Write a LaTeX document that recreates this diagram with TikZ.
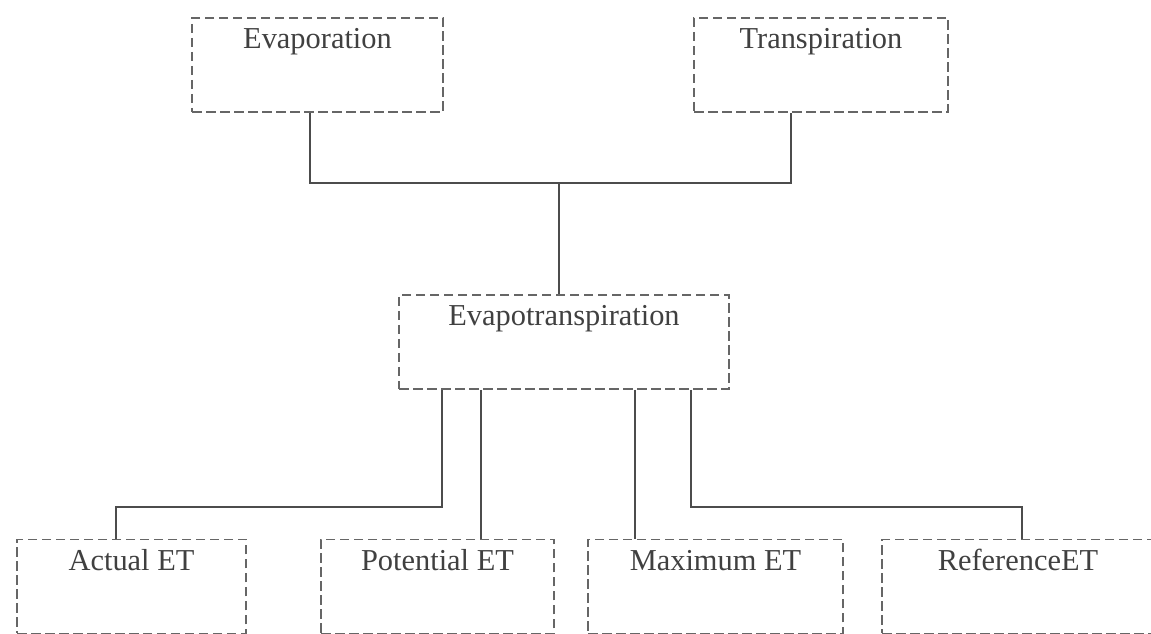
\documentclass[tikz,border=0pt]{standalone}
\usepackage{fontspec}
\setmainfont{Liberation Serif}
\usepackage{tikz}

\begin{document}
\begin{tikzpicture}[auto,scale=1, main/.style = {draw, dash pattern=on 0.19cm off 0.09cm, color=black!60, text=black!75, line width=1.1pt, inner xsep=0pt, inner ysep=0pt, text height=0.62cm, text depth=1.26cm, font=\fontsize{17.3}{20}\selectfont}, link/.style = {draw, color=black!70, line width=1pt}]
                \useasboundingbox (0,0) rectangle (23.02,12.68);
                \node[main, minimum width=5.02cm] (1) at (6.35,11.38) {Evaporation};
                \node[main, minimum width=5.08cm] (2) at (16.42,11.38) {Transpiration};
                \node[main, minimum width=6.6cm] (3) at (11.28,5.84) {Evapotranspiration};
                \node[main, minimum width=4.58cm] (4) at (2.63,0.95) {Actual ET};
                \node[main, minimum width=4.66cm] (5) at (8.75,0.95) {Potential ET};
                \node[main, minimum width=5.1cm] (6) at (14.31,0.95) {Maximum ET};
                \node[main, minimum width=5.44cm] (7) at (20.36,0.95) {ReferenceET};
                \coordinate (j) at (11.18,9.02);
                \coordinate (k4) at (2.32,2.54);
                \coordinate (k7) at (20.44,2.54);
                \coordinate (p5) at ([xshift=-1.66cm]3.south);
                \coordinate (p6) at ([xshift=1.42cm]3.south);
                \path[link] ([xshift=-0.15cm]1.south) |- (j) -| ([xshift=-0.6cm]2.south);
                \path[link] (j) -- (j |- 3.north);
                \path[link] ([xshift=-2.44cm]3.south) |- (k4) -- (k4 |- 4.north);
                \path[link] (p5) -- (p5 |- 5.north);
                \path[link] (p6) -- (p6 |- 6.north);
                \path[link] ([xshift=2.54cm]3.south) |- (k7) -- (k7 |- 7.north);
            \end{tikzpicture}
\end{document}
